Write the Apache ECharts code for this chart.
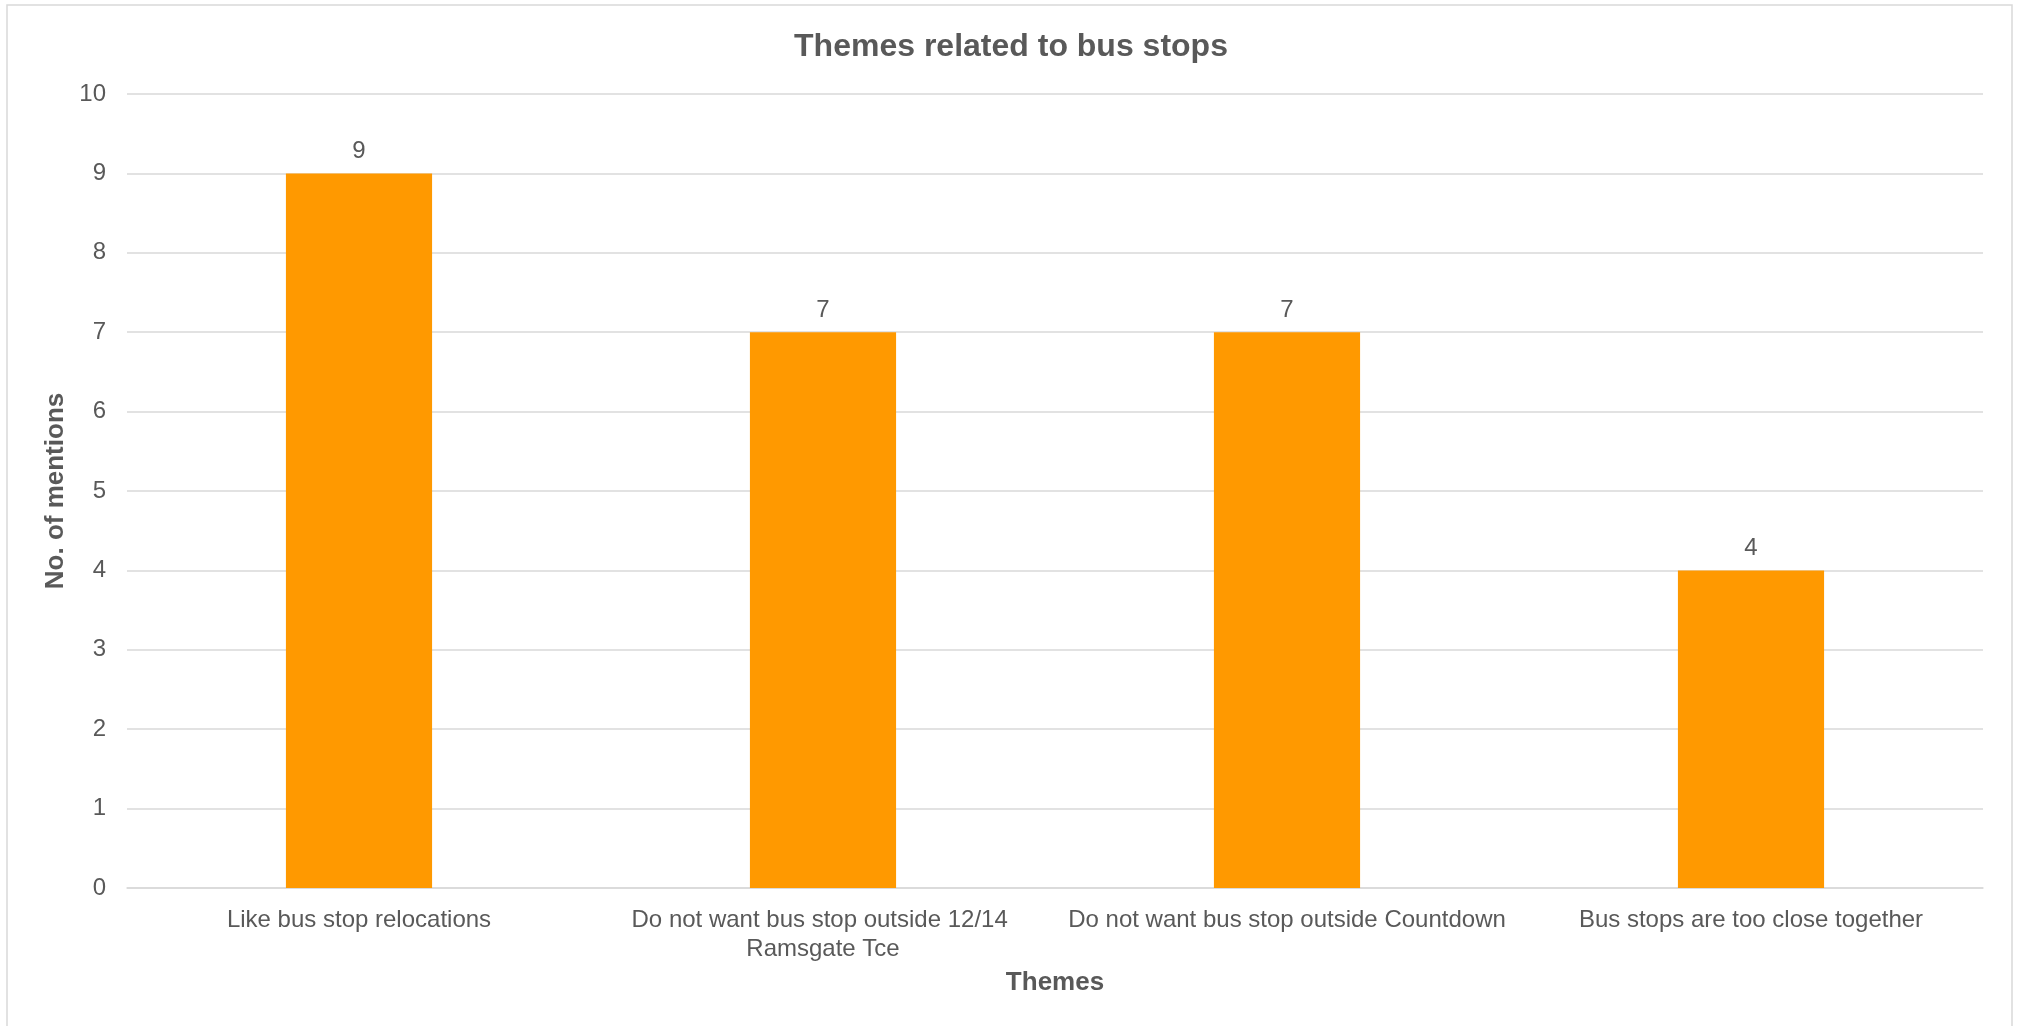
<!DOCTYPE html>
<html>
<head>
<meta charset="utf-8">
<script src="https://cdn.jsdelivr.net/npm/echarts@6/dist/echarts.min.js"></script>
<style>
html,body{margin:0;padding:0;background:#fff;}
#chart{width:2022px;height:1026px;}
</style>
</head>
<body>
<div id="chart"></div>
<script>
const titleText = 'Themes related to bus stops';
const categories = [
  'Like bus stop relocations',
  'Do not want bus stop outside 12/14 Ramsgate Tce',
  'Do not want bus stop outside Countdown',
  'Bus stops are too close together'
];
const mentions = [9, 7, 7, 4];
const xAxisName = 'Themes';
const yAxisName = 'No. of mentions';

const FONT = '"Liberation Sans", Arial, sans-serif';
const TXT = '#595959';
const GRID = '#D9D9D9';

const chart = echarts.init(document.getElementById('chart'), null, {renderer: 'canvas'});
chart.setOption({
  backgroundColor: '#ffffff',
  animation: false,
  textStyle: {fontFamily: FONT},
  graphic: [{
    type: 'rect',
    shape: {x: 7, y: 5, width: 2005, height: 1040},
    style: {fill: 'none', stroke: GRID, lineWidth: 1.5},
    silent: true
  }],
  title: {
    text: titleText,
    left: 'center',
    top: 26,
    textStyle: {fontFamily: FONT, fontSize: 32, fontWeight: 'bold', color: TXT}
  },
  grid: {left: 127, right: 39, top: 94, bottom: 138, containLabel: false},
  xAxis: {
    type: 'category',
    data: categories,
    name: xAxisName,
    nameLocation: 'middle',
    nameGap: 82,
    nameTextStyle: {fontFamily: FONT, fontSize: 26, fontWeight: 'bold', color: TXT},
    axisLine: {show: true, lineStyle: {color: GRID, width: 1.5}},
    axisTick: {show: false},
    axisLabel: {
      interval: 0,
      fontFamily: FONT,
      fontSize: 24,
      color: TXT,
      margin: 18,
      width: 450,
      overflow: 'break',
      lineHeight: 29
    }
  },
  yAxis: {
    type: 'value',
    min: 0,
    max: 10,
    interval: 1,
    name: yAxisName,
    nameLocation: 'middle',
    nameGap: 55,
    nameRotate: 90,
    nameTextStyle: {fontFamily: FONT, fontSize: 26, fontWeight: 'bold', color: TXT},
    axisLine: {show: false},
    axisTick: {show: false},
    axisLabel: {fontFamily: FONT, fontSize: 24, color: TXT, margin: 21},
    splitLine: {show: true, lineStyle: {color: GRID, width: 1.5}}
  },
  series: [{
    type: 'bar',
    data: mentions,
    barWidth: '31.5%',
    itemStyle: {color: '#FF9900'},
    label: {
      show: true,
      position: 'top',
      distance: 10,
      fontFamily: FONT,
      fontSize: 24,
      color: TXT
    }
  }]
});
</script>
</body>
</html>
